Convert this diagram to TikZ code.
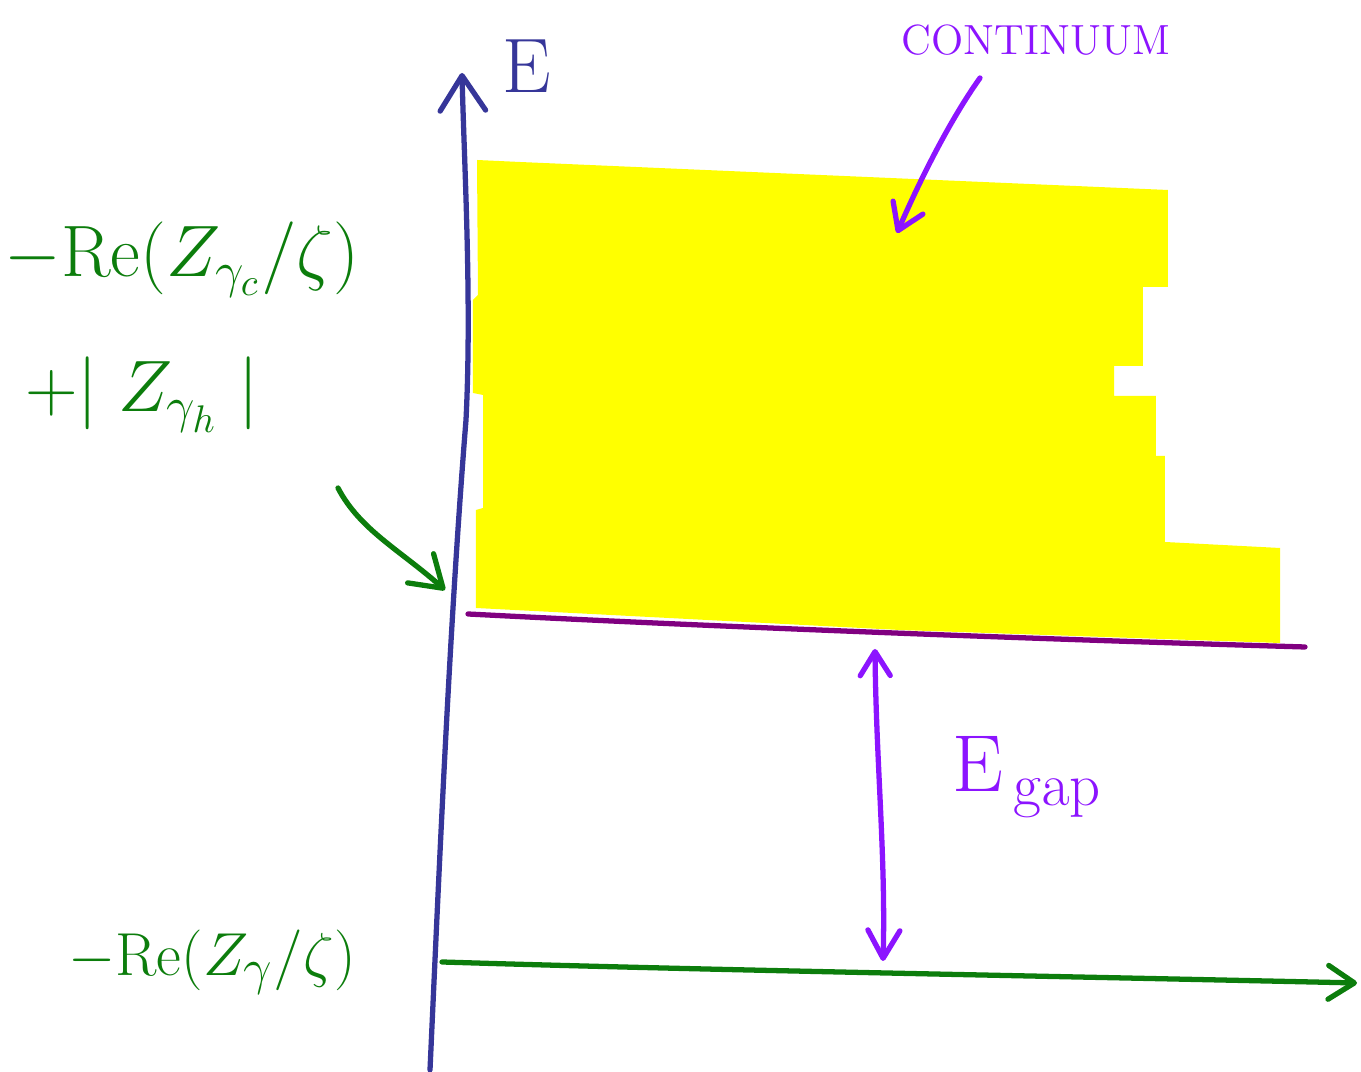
\documentclass[tikz,border=0pt]{standalone}
\usetikzlibrary{arrows.meta}
\definecolor{axisblue}{RGB}{54,54,153}
\definecolor{handgreen}{RGB}{12,125,12}
\definecolor{linepurple}{RGB}{128,0,128}
\definecolor{violet}{RGB}{140,20,255}
\definecolor{bandyellow}{RGB}{255,255,0}
\begin{document}
\begin{tikzpicture}[x=1cm,y=-1cm,
  pen/.style={line width=1.5pt,line cap=round,line join=round},
  barb/.style={-{Straight Barb[length=#1,width=1.3*#1,round]}},
  biglabel/.style={font=\fontsize{21}{24}\selectfont,text=handgreen,inner sep=0pt}]
\useasboundingbox (0,0) rectangle (13.61,10.72);

% continuum
\fill[bandyellow] (4.77,1.60) -- (5.20,1.62) -- (11.68,1.90) -- (11.68,2.87)
  -- (11.43,2.87) -- (11.43,3.66) -- (11.14,3.66) -- (11.14,3.96)
  -- (11.56,3.96) -- (11.56,4.56) -- (11.65,4.56) -- (11.65,5.42)
  -- (12.80,5.48) -- (12.80,6.43) -- (9.00,6.30) -- (4.76,6.08)
  -- (4.76,5.10) -- (4.83,5.08) -- (4.83,3.95) -- (4.73,3.93)
  -- (4.73,3.00) -- (4.78,2.95) -- cycle;

% axes
\coordinate (ebot) at (4.30,10.70);
\coordinate (etop) at (4.62,0.73);
\draw[pen,axisblue,barb=3.5mm] (ebot) .. controls (4.40,8.5) and (4.50,6.2) .. (4.66,4.2)
  .. controls (4.72,3.0) and (4.64,1.6) .. (etop);
\node[text=axisblue,font=\fontsize{22}{24}\selectfont] (elabel) at (5.27,0.66) {E};

\coordinate (xstart) at (4.42,9.62);
\coordinate (xend) at (13.57,9.83);
\draw[pen,handgreen,barb=2.6mm] (xstart) .. controls (7,9.70) and (10,9.75) .. (xend);

% lower edge of continuum
\coordinate (gapl) at (4.68,6.14);
\coordinate (gapr) at (13.05,6.47);
\draw[pen,linepurple] (gapl) .. controls (7,6.26) and (10,6.38) .. (gapr);

% gap
\coordinate (gtop) at (8.75,6.49);
\coordinate (gbot) at (8.83,9.61);
\draw[pen,violet,{Straight Barb[length=2.4mm,width=3mm,round]}-{Straight Barb[length=2.8mm,width=3.2mm,round]}]
  (gtop) .. controls (8.76,7.6) and (8.86,8.6) .. (gbot);
\node[anchor=base west,text=violet,inner sep=0pt,font=\fontsize{23}{26}\selectfont] (egap) at (9.52,7.92) {E$_{\,\mathrm{gap}}$};

\node[text=violet,font=\fontsize{12}{14}\selectfont,inner sep=0pt] (cont) at (10.36,0.40) {CONTINUUM};
\coordinate (cstart) at (9.80,0.78);
\coordinate (cend) at (8.97,2.33);
\draw[pen,violet,barb=2.5mm] (cstart) .. controls (9.50,1.20) and (9.20,1.80) .. (cend);

% labels on the energy axis
\node[biglabel] (upper) at (1.82,2.60) {$-\mathrm{Re}\Big(Z_{\gamma_c}/\zeta\Big)$};
\node[biglabel] (shift) at (1.42,3.95) {$+\Big|\;Z_{\gamma_h}\;\Big|$};
\coordinate (pstart) at (3.38,4.88);
\coordinate (pend) at (4.45,5.90);
\draw[pen,handgreen,barb=3mm] (pstart) .. controls (3.60,5.30) and (4.00,5.50) .. (pend);
\node[biglabel,font=\fontsize{19}{22}\selectfont] (lower) at (2.12,9.62) {$-\mathrm{Re}\Big(Z_{\gamma}/\zeta\Big)$};
\end{tikzpicture}
\end{document}
